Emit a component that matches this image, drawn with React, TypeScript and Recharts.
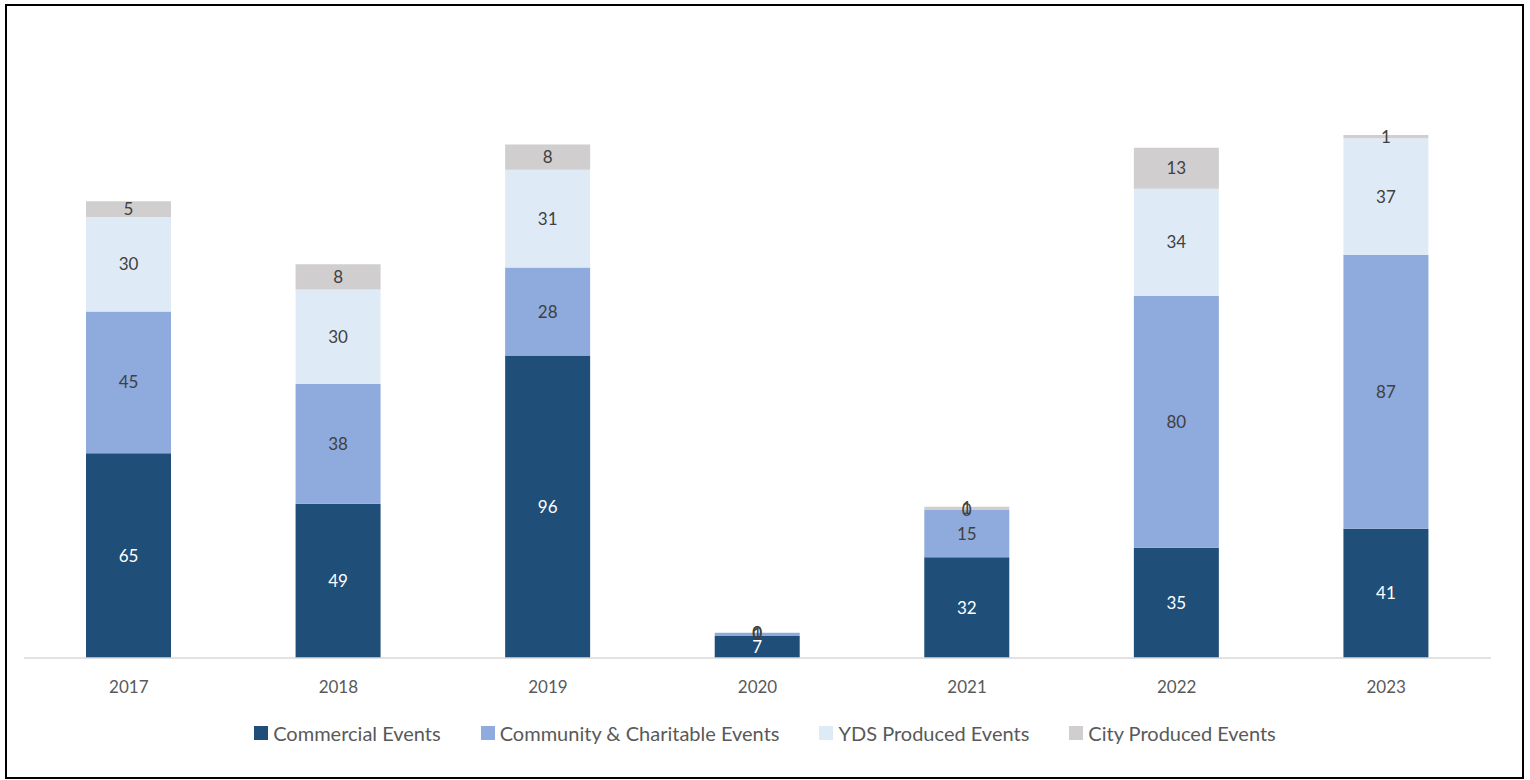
import React from "react";
import { BarChart, Bar, XAxis, YAxis, Legend, LabelList } from "recharts";

const years = ["2017", "2018", "2019", "2020", "2021", "2022", "2023"];
const commercial = [65, 49, 96, 7, 32, 35, 41];
const community = [45, 38, 28, 1, 15, 80, 87];
const ydsProduced = [30, 30, 31, 0, 0, 34, 37];
const cityProduced = [5, 8, 8, 0, 1, 13, 1];

const seriesInfo = [
  { key: "commercial", name: "Commercial Events", color: "#1F4E79", label: "#FFFFFF" },
  { key: "community", name: "Community & Charitable Events", color: "#8FAADC", label: "#404040" },
  { key: "yds", name: "YDS Produced Events", color: "#DEEBF7", label: "#404040" },
  { key: "city", name: "City Produced Events", color: "#D0CECE", label: "#404040" },
];

const chartData = years.map((year, i) => ({
  year,
  commercial: commercial[i],
  community: community[i],
  yds: ydsProduced[i],
  city: cityProduced[i],
}));

const FONT = "Lato, 'Open Sans', sans-serif";

const LegendBox: React.FC = () => (
  <div style={{ display: "flex", justifyContent: "center", alignItems: "center", gap: 40, fontFamily: FONT }}>
    {seriesInfo.map((s) => (
      <div key={s.key} style={{ display: "flex", alignItems: "center", gap: 5 }}>
        <div style={{ width: 14, height: 14, background: s.color }} />
        <span style={{ fontSize: 20, color: "#595959" }}>{s.name}</span>
      </div>
    ))}
  </div>
);

export default function App() {
  return (
    <div style={{ position: "absolute", top: 0, left: 0, width: 1530, height: 780, background: "#fff" }}>
      <div
        style={{
          position: "absolute",
          left: 5,
          top: 4,
          width: 1515,
          height: 771,
          border: "2px solid #000",
        }}
      />
      <div style={{ position: "absolute", left: 0, top: 0 }}>
        <BarChart
          width={1530}
          height={780}
          data={chartData}
          margin={{ top: 91, right: 39, left: 24, bottom: 52 }}
          barSize={85}
        >
          <XAxis
            dataKey="year"
            tickLine={false}
            axisLine={{ stroke: "#D9D9D9", strokeWidth: 1.5 }}
            tick={{ fill: "#595959", fontSize: 17, fontFamily: FONT }}
            tickMargin={17}
            height={30}
          />
          <YAxis hide domain={[0, 180]} />
          <Legend
            verticalAlign="bottom"
            height={40}
            content={() => <LegendBox />}
            wrapperStyle={{ top: 721, left: 0, width: 1530 }}
          />
          {seriesInfo.map((s) => (
            <Bar
              key={s.key}
              dataKey={s.key}
              name={s.name}
              stackId="a"
              fill={s.color}
              minPointSize={0.01}
              isAnimationActive={false}
            >
              <LabelList
                dataKey={s.key}
                position="center"
                fill={s.label}
                fontSize={17}
                fontFamily={FONT}
              />
            </Bar>
          ))}
        </BarChart>
      </div>
    </div>
  );
}
